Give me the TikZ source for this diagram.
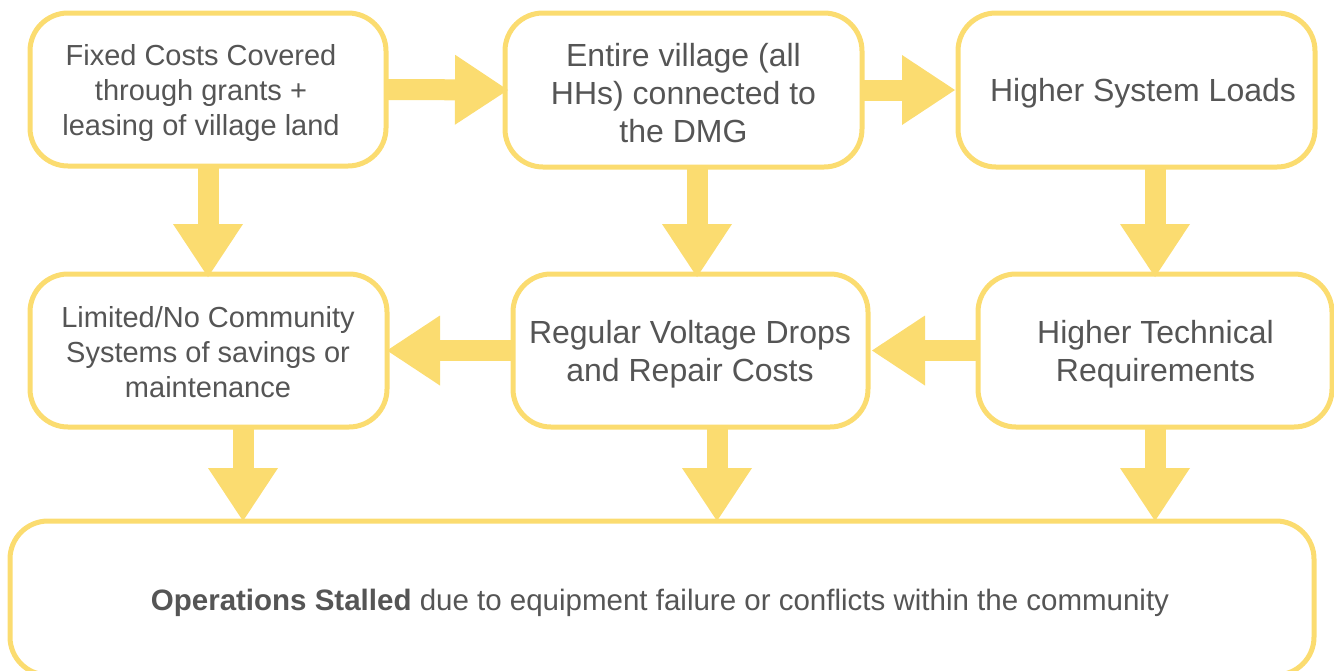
\documentclass[tikz,border=0pt]{standalone}
\usepackage{fontspec}
\setmainfont{Liberation Sans}
\usetikzlibrary{arrows.meta,calc}
\definecolor{gold}{HTML}{FBDC70}
\definecolor{ink}{HTML}{555555}
\begin{document}
\begin{tikzpicture}[x=1pt,y=-1pt,
  box/.style={draw=gold, line width=5pt, fill=white, rounded corners=38pt,
    inner sep=0pt, outer sep=0pt},
  txt/.style={text=ink, align=center, inner sep=0pt},
  small/.style={font=\fontsize{29}{35}\selectfont},
  big/.style={font=\fontsize{32}{38}\selectfont},
  fat/.style={draw=gold, line width=21pt,
    -{Triangle[width=70pt,length=53pt,line width=0pt]}}]
\useasboundingbox (0,0) rectangle (1334,670);

% boxes
\node[box, minimum width=356pt, minimum height=153pt] (b1) at (208,89.5) {};
\node[box, minimum width=357pt, minimum height=154pt] (b2) at (683.5,90) {};
\node[box, minimum width=357pt, minimum height=154pt] (b3) at (1136.5,90) {};
\node[box, minimum width=357pt, minimum height=153pt] (b4) at (208.5,350.5) {};
\node[box, minimum width=355pt, minimum height=153pt] (b5) at (690.5,350.5) {};
\node[box, minimum width=354pt, minimum height=153pt] (b6) at (1155,350.5) {};
\node[box, minimum width=1304pt, minimum height=154pt] (b7) at (662,598) {};

% connectors
\draw[fat, shorten >=-3pt] (b1.east) -- (b2.west);
\draw[fat, shorten >=3pt] (b2.east) -- (b3.west);
\draw[fat, shorten >=-3pt] (b1.south) -- (b1.south |- b4.north);
\coordinate (p25) at ([xshift=13.5pt]b2.south);
\draw[fat, shorten >=-3pt] (p25) -- (p25 |- b5.north);
\draw[fat, shorten >=-3pt] (b3.south -| b6.north) -- (b6.north);
\draw[fat, shorten >=4pt] (b6.west) -- (b5.east);
\draw[fat] (b5.west) -- (b4.east);
\coordinate (p47) at ([xshift=34.5pt]b4.south);
\draw[fat] (p47) -- (p47 |- b7.north);
\coordinate (p57) at ([xshift=26.5pt]b5.south);
\draw[fat] (p57) -- (p57 |- b7.north);
\draw[fat] (b6.south) -- (b6.south |- b7.north);

% labels
\node[txt, small] (t1) at (201,93) {Fixed Costs Covered\\through grants +\\leasing of village land};
\node[txt, big] (t2) at (683.5,93) {Entire village (all\\HHs) connected to\\the DMG};
\node[txt, big] (t3) at (1143,93) {Higher System Loads};
\node[txt, small] (t4) at (208,352) {Limited/No Community\\Systems of savings or\\maintenance};
\node[txt, big] (t5) at (690,354) {Regular Voltage Drops\\and Repair Costs};
\node[txt, big] (t6) at (1155.5,354) {Higher Technical\\Requirements};
\node[txt, font=\fontsize{29.5}{35}\selectfont] (t7) at (660,603) {\textbf{Operations Stalled} due to equipment failure or conflicts within the community};
\end{tikzpicture}
\end{document}
